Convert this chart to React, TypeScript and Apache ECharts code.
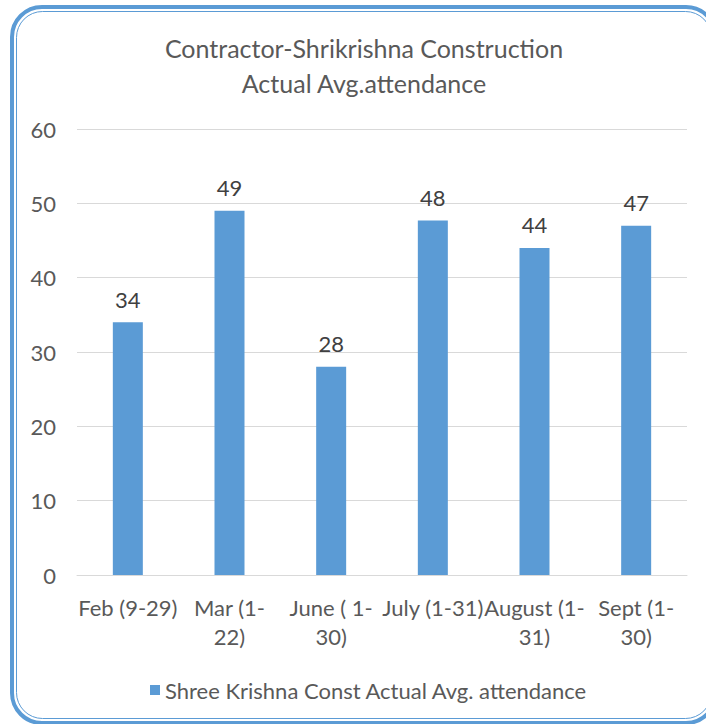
import React, { useEffect, useRef } from "react";
import * as echarts from "echarts";

const categories = ["Feb (9-29)", "Mar (1-22)", "June ( 1-30)", "July (1-31)", "August (1-31)", "Sept (1-30)"];
const tickLabels = ["Feb (9-29)", "Mar (1-\n22)", "June ( 1-\n30)", "July (1-31)", "August (1-\n31)", "Sept (1-\n30)"];
const values = [34, 49, 28, 47.7, 44, 47];
const yTicks = [0, 10, 20, 30, 40, 50, 60];
const seriesName = "Shree Krishna Const Actual Avg. attendance";
const titleLines = ["Contractor-Shrikrishna Construction", "Actual Avg.attendance"];

const FONT = "Lato, 'Noto Sans', sans-serif";

export default function App() {
  const ref = useRef<HTMLDivElement>(null);
  useEffect(() => {
    if (!ref.current) return;
    const chart = echarts.init(ref.current, undefined, { renderer: "svg" });
    chart.setOption({
      animation: false,
      backgroundColor: "#ffffff",
      title: {
        text: titleLines.join("\n"),
        left: 364,
        textAlign: "center",
        top: 30,
        padding: 0,
        textStyle: { fontFamily: FONT, fontSize: 25, fontWeight: "normal", color: "#595959", lineHeight: 35 },
      },
      legend: {
        left: 150,
        top: 679,
        padding: 0,
        itemWidth: 10,
        itemHeight: 10,
        itemGap: 5,
        icon: "rect",
        textStyle: { fontFamily: FONT, fontSize: 22, color: "#595959" },
        data: [seriesName],
      },
      grid: { left: 77, right: 19, top: 129, bottom: 149, containLabel: false },
      xAxis: {
        type: "category",
        data: categories,
        axisTick: { show: false },
        axisLine: { lineStyle: { color: "#D9D9D9", width: 1 } },
        axisLabel: {
          interval: 0,
          margin: 18,
          fontFamily: FONT,
          fontSize: 22,
          color: "#595959",
          lineHeight: 29,
          formatter: (_v: string, i: number) => tickLabels[i],
        },
      },
      yAxis: {
        type: "value",
        min: yTicks[0],
        max: yTicks[yTicks.length - 1],
        interval: 10,
        axisLine: { show: false },
        axisTick: { show: false },
        splitLine: { lineStyle: { color: "#D9D9D9", width: 1 } },
        axisLabel: { margin: 21, fontFamily: FONT, fontSize: 22, color: "#595959" },
      },
      series: [
        {
          name: seriesName,
          type: "bar",
          data: values,
          barWidth: 30,
          itemStyle: { color: "#5B9BD5" },
          label: {
            show: true,
            position: "top",
            distance: 12,
            fontFamily: FONT,
            fontSize: 22,
            color: "#404040",
            formatter: (p: any) => String(Math.round(p.value)),
          },
        },
      ],
      graphic: [
        {
          type: "rect",
          silent: true,
          shape: { x: 12, y: 7, width: 704, height: 716, r: 30 },
          style: { fill: "none", stroke: "#5B9BD5", lineWidth: 4 },
        },
        {
          type: "rect",
          silent: true,
          shape: { x: 16.5, y: 11.5, width: 695, height: 707, r: 26 },
          style: { fill: "none", stroke: "#5B9BD5", lineWidth: 1 },
        },
      ],
    });
    return () => chart.dispose();
  }, []);
  return <div ref={ref} style={{ width: 706, height: 724, position: "fixed", left: 0, top: 0 }} />;
}
